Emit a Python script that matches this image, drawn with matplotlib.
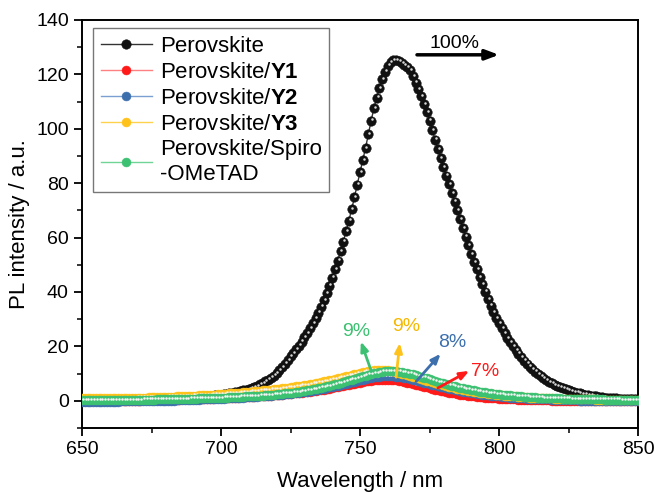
import numpy as np
import matplotlib
matplotlib.use("Agg")
import matplotlib.pyplot as plt
import matplotlib.transforms as mtransforms

plt.rcParams['font.family'] = ['Liberation Sans', 'DejaVu Sans']
plt.rcParams['mathtext.fontset'] = 'custom'
plt.rcParams['mathtext.rm'] = 'Liberation Sans'
plt.rcParams['mathtext.bf'] = 'Liberation Sans:bold'

# ---------------- data ----------------
wavelength = np.arange(650, 851, 1)

perovskite = [
    0.1, 0.1, 0.1, 0.1, 0.2, 0.2, 0.2, 0.2, 0.2, 0.3,
    0.3, 0.3, 0.3, 0.3, 0.4, 0.4, 0.4, 0.4, 0.5, 0.5,
    0.5, 0.5, 0.6, 0.6, 0.6, 0.7, 0.7, 0.7, 0.8, 0.8,
    0.9, 0.9, 1.0, 1.0, 1.1, 1.1, 1.2, 1.2, 1.3, 1.3,
    1.4, 1.4, 1.5, 1.6, 1.6, 1.7, 1.8, 1.9, 2.0, 2.1,
    2.2, 2.4, 2.6, 2.8, 3.0, 3.2, 3.4, 3.6, 3.8, 4.0,
    4.2, 4.6, 5.0, 5.5, 6.0, 6.5, 7.1, 7.8, 8.5, 9.3,
    10.2, 11.3, 12.5, 13.7, 15.0, 16.3, 17.6, 18.9, 20.3, 21.8,
    23.3, 25.0, 26.7, 28.5, 30.4, 32.4, 34.6, 37.0, 39.5, 42.3,
    45.3, 48.5, 51.5, 55.0, 58.5, 62.3, 66.2, 70.5, 74.8, 79.5,
    84.0, 88.5, 93.0, 98.0, 103.0, 107.5, 111.5, 115.0, 118.3, 121.0,
    123.2, 124.6, 125.3, 125.2, 124.8, 124.2, 123.3, 122.6, 121.5, 119.3,
    117.0, 114.6, 112.0, 109.2, 106.2, 103.0, 99.6, 96.0, 92.5, 89.2,
    86.0, 82.8, 79.6, 76.4, 73.2, 70.0, 66.8, 63.6, 60.4, 57.2,
    54.0, 51.0, 48.3, 45.6, 42.8, 40.1, 37.5, 35.0, 32.7, 30.5,
    28.5, 26.6, 24.8, 23.1, 21.5, 20.0, 18.6, 17.3, 16.0, 14.8,
    13.7, 12.6, 11.6, 10.7, 9.8, 9.0, 8.3, 7.6, 7.0, 6.4,
    5.9, 5.4, 5.0, 4.6, 4.2, 3.9, 3.6, 3.3, 3.0, 2.8,
    2.5, 2.3, 2.1, 1.9, 1.7, 1.6, 1.4, 1.3, 1.2, 1.1,
    1.0, 0.9, 0.9, 0.8, 0.7, 0.7, 0.6, 0.6, 0.5, 0.5,
    0.5,
]

perovskite_y1 = [
    0.0, 0.0, 0.0, 0.0, 0.0, 0.0, 0.0, 0.0, 0.0, 0.0,
    0.0, 0.0, 0.0, 0.0, 0.1, 0.1, 0.1, 0.1, 0.1, 0.1,
    0.1, 0.1, 0.2, 0.2, 0.2, 0.2, 0.2, 0.3, 0.3, 0.3,
    0.3, 0.3, 0.4, 0.4, 0.4, 0.4, 0.5, 0.5, 0.5, 0.6,
    0.6, 0.6, 0.7, 0.7, 0.7, 0.8, 0.8, 0.8, 0.9, 0.9,
    1.0, 1.0, 1.0, 1.1, 1.1, 1.2, 1.2, 1.3, 1.3, 1.4,
    1.4, 1.5, 1.5, 1.6, 1.7, 1.7, 1.8, 1.9, 1.9, 2.0,
    2.1, 2.2, 2.3, 2.4, 2.5, 2.6, 2.7, 2.8, 2.9, 3.0,
    3.1, 3.2, 3.4, 3.5, 3.7, 3.8, 4.0, 4.1, 4.3, 4.5,
    4.7, 4.9, 5.1, 5.3, 5.5, 5.7, 5.9, 6.1, 6.3, 6.5,
    6.7, 6.9, 7.1, 7.2, 7.4, 7.5, 7.6, 7.7, 7.8, 7.8,
    7.8, 7.7, 7.6, 7.5, 7.3, 7.1, 6.9, 6.7, 6.4, 6.2,
    5.9, 5.7, 5.4, 5.1, 4.9, 4.6, 4.4, 4.1, 3.9, 3.7,
    3.5, 3.2, 3.0, 2.8, 2.7, 2.5, 2.3, 2.2, 2.0, 1.9,
    1.7, 1.6, 1.5, 1.4, 1.3, 1.2, 1.1, 1.0, 0.9, 0.9,
    0.8, 0.7, 0.7, 0.6, 0.6, 0.5, 0.5, 0.4, 0.4, 0.4,
    0.3, 0.3, 0.3, 0.3, 0.2, 0.2, 0.2, 0.2, 0.2, 0.1,
    0.1, 0.1, 0.1, 0.1, 0.1, 0.1, 0.1, 0.1, 0.1, 0.1,
    0.1, 0.1, 0.1, 0.0, 0.0, 0.0, 0.0, 0.0, 0.0, 0.0,
    0.0, 0.0, 0.0, 0.0, 0.0, 0.0, 0.0, 0.0, 0.0, 0.0,
    0.0,
]

perovskite_y2 = [
    -0.3, -0.3, -0.3, -0.3, -0.3, -0.3, -0.3, -0.3, -0.3, -0.3,
    -0.3, -0.3, -0.3, -0.3, -0.2, -0.2, -0.2, -0.2, -0.2, -0.2,
    -0.2, -0.2, -0.1, -0.1, -0.1, -0.1, -0.1, 0.0, 0.0, 0.0,
    0.0, 0.1, 0.1, 0.1, 0.2, 0.2, 0.2, 0.3, 0.3, 0.3,
    0.4, 0.4, 0.4, 0.5, 0.5, 0.6, 0.6, 0.6, 0.7, 0.7,
    0.8, 0.8, 0.9, 0.9, 1.0, 1.0, 1.1, 1.1, 1.2, 1.3,
    1.3, 1.4, 1.5, 1.5, 1.6, 1.7, 1.8, 1.8, 1.9, 2.0,
    2.1, 2.2, 2.3, 2.4, 2.5, 2.6, 2.7, 2.9, 3.0, 3.1,
    3.3, 3.4, 3.6, 3.7, 3.9, 4.1, 4.3, 4.5, 4.7, 4.9,
    5.1, 5.3, 5.5, 5.8, 6.0, 6.3, 6.5, 6.8, 7.0, 7.3,
    7.5, 7.8, 8.0, 8.2, 8.4, 8.6, 8.8, 8.9, 9.0, 9.1,
    9.1, 9.1, 9.0, 8.9, 8.8, 8.6, 8.4, 8.2, 8.0, 7.8,
    7.5, 7.3, 7.0, 6.7, 6.5, 6.2, 5.9, 5.7, 5.4, 5.2,
    4.9, 4.7, 4.5, 4.2, 4.0, 3.8, 3.6, 3.4, 3.2, 3.1,
    2.9, 2.7, 2.6, 2.4, 2.3, 2.2, 2.0, 1.9, 1.8, 1.7,
    1.6, 1.5, 1.4, 1.3, 1.2, 1.2, 1.1, 1.0, 1.0, 0.9,
    0.8, 0.8, 0.7, 0.7, 0.6, 0.6, 0.5, 0.5, 0.5, 0.4,
    0.4, 0.4, 0.3, 0.3, 0.3, 0.2, 0.2, 0.2, 0.2, 0.1,
    0.1, 0.1, 0.1, 0.1, 0.0, 0.0, 0.0, 0.0, 0.0, 0.0,
    -0.1, -0.1, -0.1, -0.1, -0.1, -0.1, -0.1, -0.1, -0.1, -0.1,
    -0.1,
]

perovskite_y3 = [
    1.0, 1.0, 1.0, 1.0, 1.0, 1.0, 1.0, 1.0, 1.0, 1.0,
    1.0, 1.0, 1.0, 1.0, 1.1, 1.1, 1.1, 1.1, 1.1, 1.1,
    1.2, 1.2, 1.2, 1.2, 1.3, 1.3, 1.3, 1.3, 1.4, 1.4,
    1.4, 1.5, 1.5, 1.5, 1.6, 1.6, 1.7, 1.7, 1.8, 1.8,
    1.9, 1.9, 2.0, 2.0, 2.1, 2.1, 2.2, 2.3, 2.3, 2.4,
    2.5, 2.5, 2.6, 2.7, 2.8, 2.8, 2.9, 3.0, 3.1, 3.2,
    3.3, 3.4, 3.5, 3.6, 3.7, 3.8, 3.9, 4.0, 4.1, 4.2,
    4.3, 4.4, 4.6, 4.7, 4.8, 5.0, 5.1, 5.3, 5.4, 5.6,
    5.7, 5.9, 6.1, 6.3, 6.5, 6.7, 6.9, 7.1, 7.3, 7.6,
    7.8, 8.0, 8.3, 8.5, 8.8, 9.0, 9.3, 9.5, 9.8, 10.0,
    10.3, 10.5, 10.7, 10.9, 11.1, 11.2, 11.3, 11.4, 11.4, 11.4,
    11.3, 11.1, 10.9, 10.6, 10.3, 10.0, 9.8, 9.5, 9.2, 8.9,
    8.6, 8.3, 8.0, 7.7, 7.4, 7.1, 6.8, 6.5, 6.2, 6.0,
    5.7, 5.4, 5.2, 4.9, 4.7, 4.5, 4.3, 4.1, 3.9, 3.7,
    3.5, 3.3, 3.2, 3.0, 2.9, 2.7, 2.6, 2.5, 2.4, 2.2,
    2.1, 2.0, 1.9, 1.8, 1.7, 1.7, 1.6, 1.5, 1.4, 1.4,
    1.3, 1.2, 1.2, 1.1, 1.1, 1.0, 1.0, 0.9, 0.9, 0.9,
    0.8, 0.8, 0.8, 0.7, 0.7, 0.7, 0.6, 0.6, 0.6, 0.6,
    0.5, 0.5, 0.5, 0.5, 0.5, 0.4, 0.4, 0.4, 0.4, 0.4,
    0.4, 0.4, 0.3, 0.3, 0.3, 0.3, 0.3, 0.3, 0.3, 0.3,
    0.3,
]

perovskite_spiro = [
    0.2, 0.2, 0.2, 0.2, 0.2, 0.2, 0.2, 0.2, 0.2, 0.2,
    0.2, 0.2, 0.2, 0.2, 0.3, 0.3, 0.3, 0.3, 0.3, 0.3,
    0.3, 0.3, 0.4, 0.4, 0.4, 0.4, 0.4, 0.5, 0.5, 0.5,
    0.5, 0.5, 0.6, 0.6, 0.6, 0.6, 0.7, 0.7, 0.7, 0.8,
    0.8, 0.8, 0.9, 0.9, 0.9, 1.0, 1.0, 1.0, 1.1, 1.1,
    1.1, 1.2, 1.2, 1.3, 1.3, 1.4, 1.4, 1.5, 1.5, 1.6,
    1.6, 1.7, 1.7, 1.8, 1.9, 1.9, 2.0, 2.1, 2.2, 2.3,
    2.4, 2.5, 2.6, 2.7, 2.8, 2.9, 3.0, 3.2, 3.3, 3.5,
    3.6, 3.8, 4.0, 4.2, 4.4, 4.6, 4.8, 5.0, 5.3, 5.5,
    5.8, 6.0, 6.3, 6.6, 6.9, 7.2, 7.5, 7.8, 8.1, 8.4,
    8.7, 9.0, 9.3, 9.6, 9.9, 10.1, 10.3, 10.5, 10.7, 10.8,
    10.9, 10.9, 10.9, 10.8, 10.7, 10.6, 10.4, 10.2, 10.0, 9.7,
    9.4, 9.1, 8.8, 8.5, 8.2, 7.9, 7.6, 7.3, 7.0, 6.7,
    6.4, 6.1, 5.8, 5.6, 5.3, 5.1, 4.8, 4.6, 4.4, 4.2,
    4.0, 3.8, 3.6, 3.4, 3.2, 3.1, 2.9, 2.8, 2.6, 2.5,
    2.4, 2.3, 2.2, 2.1, 2.0, 1.9, 1.8, 1.7, 1.6, 1.5,
    1.5, 1.4, 1.3, 1.3, 1.2, 1.2, 1.1, 1.1, 1.0, 1.0,
    0.9, 0.9, 0.9, 0.8, 0.8, 0.8, 0.7, 0.7, 0.7, 0.6,
    0.6, 0.6, 0.6, 0.5, 0.5, 0.5, 0.5, 0.5, 0.4, 0.4,
    0.4, 0.4, 0.4, 0.4, 0.3, 0.3, 0.3, 0.3, 0.3, 0.3,
    0.3,
]

series_labels = ["Perovskite", "Perovskite/$\\mathbf{Y1}$", "Perovskite/$\\mathbf{Y2}$",
                 "Perovskite/$\\mathbf{Y3}$", "Perovskite/Spiro\n-OMeTAD"]
series_colors = ["#111111", "#ff1a1a", "#3d6fad", "#ffc21a", "#3cc071"]
line_colors = ["#333333", "#ff8080", "#7a9fd0", "#ffd24d", "#6fd495"]

percent_labels = ["100%", "7%", "8%", "9%", "9%"]

# ---------------- figure ----------------
fig = plt.figure(figsize=(6.54, 4.93), dpi=100)
ax = fig.add_axes([82 / 654, (493 - 428) / 493, 556 / 654, 408 / 493])

all_series = [perovskite, perovskite_y1, perovskite_y2, perovskite_y3, perovskite_spiro]
hl = mtransforms.offset_copy(ax.transData, fig=fig, x=0.6, y=0.9, units='points')

handles = []
for i, (ys, lab, c, lc) in enumerate(zip(all_series, series_labels, series_colors, line_colors)):
    ms = 6.8 if i == 0 else 6.4
    h, = ax.plot(wavelength, ys, color=lc, lw=1.0, marker='o', ms=ms,
                 markerfacecolor=c, markeredgecolor=c, markeredgewidth=0.4,
                 label=lab, zorder=2 + i)
    hlc = '#d8d8d8' if i == 0 else '#f4f4f4'
    ax.plot(wavelength, ys, ls='none', marker='o', ms=1.8, markerfacecolor=hlc,
            markeredgecolor='none', transform=hl, zorder=2 + i)
    handles.append(h)

ax.set_xlim(650, 850)
ax.set_ylim(-10, 140)
ax.set_xticks(np.arange(650, 851, 50))
ax.set_yticks(np.arange(0, 141, 20))
ax.set_xticks(np.arange(675, 850, 50), minor=True)
ax.set_yticks(np.arange(-10, 140, 20), minor=True)
ax.tick_params(which='major', direction='out', length=6, width=1.3, labelsize=14,
               top=False, right=False)
ax.tick_params(which='minor', direction='out', length=3.5, width=1.1,
               top=False, right=False)
for s in ax.spines.values():
    s.set_linewidth(1.4)
    s.set_color('black')

ax.set_xlabel("Wavelength / nm", fontsize=16, labelpad=9)
ax.set_ylabel("PL intensity / a.u.", fontsize=16, labelpad=4)

leg = ax.legend(handles=handles, loc='upper left', bbox_to_anchor=(0.0198, 0.980),
                borderaxespad=0, fontsize=16, frameon=True, fancybox=False,
                edgecolor='#555555', handlelength=2.3, handletextpad=0.35,
                labelspacing=0.22, borderpad=0.35)
leg.get_frame().set_linewidth(1.0)
leg.set_zorder(20)

# annotations
akw = dict(zorder=15)
ax.annotate("", xy=(800.0, 127.2), xytext=(770.5, 127.2),
            arrowprops=dict(arrowstyle='-|>,head_length=0.8,head_width=0.3', lw=2.5,
                            color='black', shrinkA=0, shrinkB=0), **akw)
ax.text(784, 131.3, percent_labels[0], fontsize=14, ha='center', va='center', zorder=15)

ax.annotate("", xy=(750.3, 21.8), xytext=(754.1, 10.8),
            arrowprops=dict(arrowstyle='-|>,head_length=0.55,head_width=0.22', lw=2,
                            color=series_colors[4], shrinkA=0, shrinkB=0), **akw)
ax.text(748.5, 25.5, percent_labels[4], fontsize=14, ha='center', va='center',
        color=series_colors[4], zorder=15)

ax.annotate("", xy=(764.3, 21.3), xytext=(763.0, 8.7),
            arrowprops=dict(arrowstyle='-|>,head_length=0.55,head_width=0.22', lw=2,
                            color=series_colors[3], shrinkA=0, shrinkB=0), **akw)
ax.text(766.6, 27.3, percent_labels[3], fontsize=14, ha='center', va='center',
        color='#f5b800', zorder=15)

ax.annotate("", xy=(779.0, 17.3), xytext=(770.2, 7.1),
            arrowprops=dict(arrowstyle='-|>,head_length=0.55,head_width=0.22', lw=2,
                            color=series_colors[2], shrinkA=0, shrinkB=0), **akw)
ax.text(783.3, 21.3, percent_labels[2], fontsize=14, ha='center', va='center',
        color=series_colors[2], zorder=15)

ax.annotate("", xy=(789.3, 11.0), xytext=(778.0, 4.7),
            arrowprops=dict(arrowstyle='-|>,head_length=0.55,head_width=0.22', lw=2,
                            color=series_colors[1], shrinkA=0, shrinkB=0), **akw)
ax.text(795.0, 10.8, percent_labels[1], fontsize=14, ha='center', va='center',
        color=series_colors[1], zorder=15)

fig.savefig("out.png", dpi=100)
